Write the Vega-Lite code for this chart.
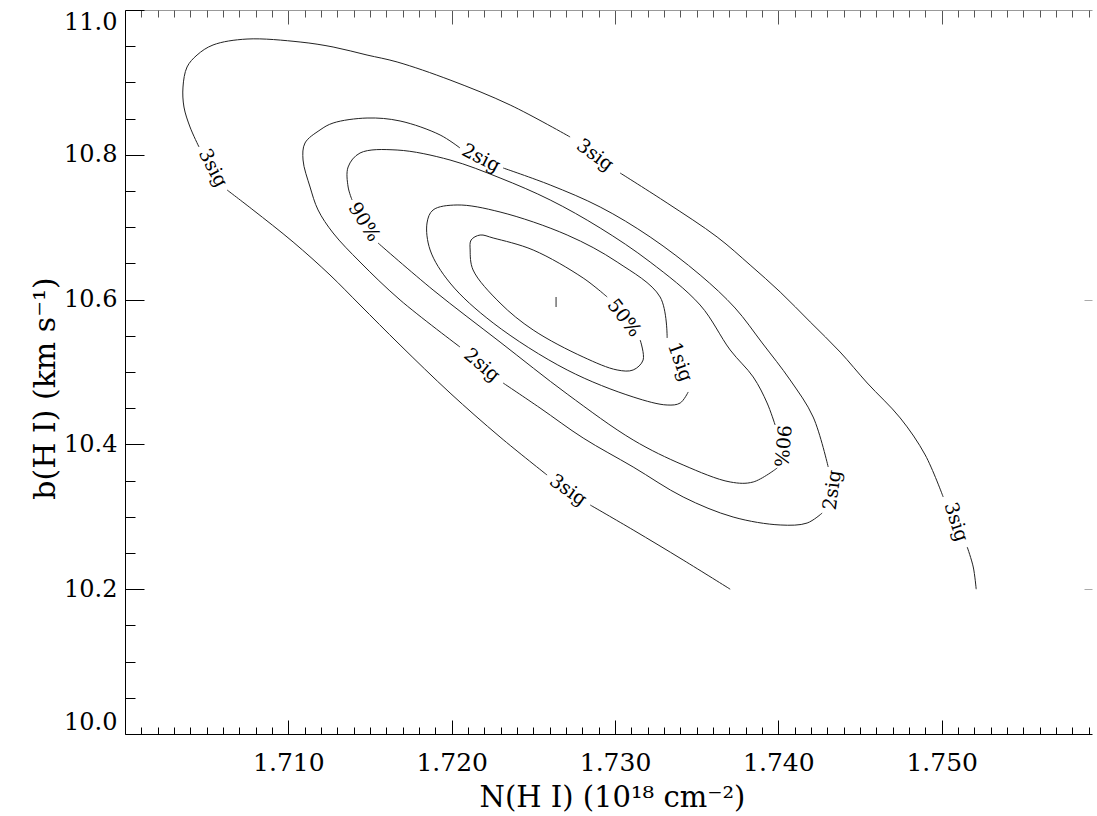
{
  "$schema": "https://vega.github.io/schema/vega-lite/v6.json",
  "width": 967,
  "height": 724,
  "autosize": {"type": "none"},
  "padding": {"left": 125, "top": 10, "right": 5, "bottom": 82},
  "background": "white",
  "config": {
    "view": {"stroke": null},
    "font": "DejaVu Serif",
    "axis": {
      "grid": false,
      "domainColor": "black",
      "tickColor": "black",
      "labelColor": "black",
      "titleColor": "black",
      "labelFont": "DejaVu Serif",
      "titleFont": "DejaVu Serif",
      "titleFontWeight": "normal",
      "labelFlush": false,
      "labelOverlap": false
    }
  },
  "datasets": {
    "ct": [
      {"level": "3sig", "seg": "3a", "k": 0, "N": 1.73705, "b": 10.2},
      {"level": "3sig", "seg": "3a", "k": 1, "N": 1.73417, "b": 10.2403},
      {"level": "3sig", "seg": "3a", "k": 2, "N": 1.73111, "b": 10.2818},
      {"level": "3sig", "seg": "3a", "k": 3, "N": 1.72848, "b": 10.3163},
      {"level": "3sig", "seg": "3b", "k": 0, "N": 1.72584, "b": 10.3577},
      {"level": "3sig", "seg": "3b", "k": 1, "N": 1.72296, "b": 10.4102},
      {"level": "3sig", "seg": "3b", "k": 2, "N": 1.7199, "b": 10.471},
      {"level": "3sig", "seg": "3b", "k": 3, "N": 1.71684, "b": 10.5373},
      {"level": "3sig", "seg": "3b", "k": 4, "N": 1.71439, "b": 10.5925},
      {"level": "3sig", "seg": "3b", "k": 5, "N": 1.71255, "b": 10.634},
      {"level": "3sig", "seg": "3b", "k": 6, "N": 1.71029, "b": 10.6796},
      {"level": "3sig", "seg": "3b", "k": 7, "N": 1.70784, "b": 10.7238},
      {"level": "3sig", "seg": "3b", "k": 8, "N": 1.70625, "b": 10.7514},
      {"level": "3sig", "seg": "3c", "k": 0, "N": 1.70453, "b": 10.8108},
      {"level": "3sig", "seg": "3c", "k": 1, "N": 1.70398, "b": 10.8384},
      {"level": "3sig", "seg": "3c", "k": 2, "N": 1.70361, "b": 10.866},
      {"level": "3sig", "seg": "3c", "k": 3, "N": 1.70355, "b": 10.8936},
      {"level": "3sig", "seg": "3c", "k": 4, "N": 1.7038, "b": 10.9213},
      {"level": "3sig", "seg": "3c", "k": 5, "N": 1.70441, "b": 10.9378},
      {"level": "3sig", "seg": "3c", "k": 6, "N": 1.70539, "b": 10.9517},
      {"level": "3sig", "seg": "3c", "k": 7, "N": 1.70747, "b": 10.9599},
      {"level": "3sig", "seg": "3c", "k": 8, "N": 1.71072, "b": 10.9558},
      {"level": "3sig", "seg": "3c", "k": 9, "N": 1.71274, "b": 10.9489},
      {"level": "3sig", "seg": "3c", "k": 10, "N": 1.71482, "b": 10.9378},
      {"level": "3sig", "seg": "3c", "k": 11, "N": 1.71666, "b": 10.9282},
      {"level": "3sig", "seg": "3c", "k": 12, "N": 1.7199, "b": 10.9033},
      {"level": "3sig", "seg": "3c", "k": 13, "N": 1.72358, "b": 10.8688},
      {"level": "3sig", "seg": "3c", "k": 14, "N": 1.72725, "b": 10.8246},
      {"level": "3sig", "seg": "3d", "k": 0, "N": 1.73031, "b": 10.7749},
      {"level": "3sig", "seg": "3d", "k": 1, "N": 1.73319, "b": 10.7334},
      {"level": "3sig", "seg": "3d", "k": 2, "N": 1.73625, "b": 10.6865},
      {"level": "3sig", "seg": "3d", "k": 3, "N": 1.73827, "b": 10.6478},
      {"level": "3sig", "seg": "3d", "k": 4, "N": 1.74011, "b": 10.6105},
      {"level": "3sig", "seg": "3d", "k": 5, "N": 1.74195, "b": 10.5691},
      {"level": "3sig", "seg": "3d", "k": 6, "N": 1.74378, "b": 10.5276},
      {"level": "3sig", "seg": "3d", "k": 7, "N": 1.74544, "b": 10.4848},
      {"level": "3sig", "seg": "3d", "k": 8, "N": 1.74746, "b": 10.4365},
      {"level": "3sig", "seg": "3d", "k": 9, "N": 1.74899, "b": 10.3854},
      {"level": "3sig", "seg": "3d", "k": 10, "N": 1.75009, "b": 10.3274},
      {"level": "3sig", "seg": "3e", "k": 0, "N": 1.75156, "b": 10.2583},
      {"level": "3sig", "seg": "3e", "k": 1, "N": 1.75193, "b": 10.2307},
      {"level": "3sig", "seg": "3e", "k": 2, "N": 1.75211, "b": 10.2},
      {"level": "2sig", "seg": "2a", "k": 0, "N": 1.72315, "b": 10.7818},
      {"level": "2sig", "seg": "2a", "k": 1, "N": 1.72603, "b": 10.7583},
      {"level": "2sig", "seg": "2a", "k": 2, "N": 1.72909, "b": 10.7279},
      {"level": "2sig", "seg": "2a", "k": 3, "N": 1.73215, "b": 10.6865},
      {"level": "2sig", "seg": "2a", "k": 4, "N": 1.73521, "b": 10.634},
      {"level": "2sig", "seg": "2a", "k": 5, "N": 1.73735, "b": 10.5884},
      {"level": "2sig", "seg": "2a", "k": 6, "N": 1.73901, "b": 10.5401},
      {"level": "2sig", "seg": "2a", "k": 7, "N": 1.74072, "b": 10.489},
      {"level": "2sig", "seg": "2a", "k": 8, "N": 1.74213, "b": 10.4378},
      {"level": "2sig", "seg": "2a", "k": 9, "N": 1.74305, "b": 10.3688},
      {"level": "2sig", "seg": "2b", "k": 0, "N": 1.74268, "b": 10.3052},
      {"level": "2sig", "seg": "2b", "k": 1, "N": 1.74176, "b": 10.2914},
      {"level": "2sig", "seg": "2b", "k": 2, "N": 1.74011, "b": 10.2887},
      {"level": "2sig", "seg": "2b", "k": 3, "N": 1.73723, "b": 10.2997},
      {"level": "2sig", "seg": "2b", "k": 4, "N": 1.73417, "b": 10.3274},
      {"level": "2sig", "seg": "2b", "k": 5, "N": 1.73111, "b": 10.3688},
      {"level": "2sig", "seg": "2b", "k": 6, "N": 1.72805, "b": 10.4088},
      {"level": "2sig", "seg": "2b", "k": 7, "N": 1.72541, "b": 10.4503},
      {"level": "2sig", "seg": "2b", "k": 8, "N": 1.72315, "b": 10.4848},
      {"level": "2sig", "seg": "2c", "k": 0, "N": 1.72051, "b": 10.5345},
      {"level": "2sig", "seg": "2c", "k": 1, "N": 1.71684, "b": 10.5995},
      {"level": "2sig", "seg": "2c", "k": 2, "N": 1.71439, "b": 10.6519},
      {"level": "2sig", "seg": "2c", "k": 3, "N": 1.71274, "b": 10.692},
      {"level": "2sig", "seg": "2c", "k": 4, "N": 1.71182, "b": 10.7238},
      {"level": "2sig", "seg": "2c", "k": 5, "N": 1.71133, "b": 10.7555},
      {"level": "2sig", "seg": "2c", "k": 6, "N": 1.7109, "b": 10.7928},
      {"level": "2sig", "seg": "2c", "k": 7, "N": 1.71102, "b": 10.8163},
      {"level": "2sig", "seg": "2c", "k": 8, "N": 1.71194, "b": 10.8343},
      {"level": "2sig", "seg": "2c", "k": 9, "N": 1.71274, "b": 10.8439},
      {"level": "2sig", "seg": "2c", "k": 10, "N": 1.71482, "b": 10.8508},
      {"level": "2sig", "seg": "2c", "k": 11, "N": 1.71684, "b": 10.8467},
      {"level": "2sig", "seg": "2c", "k": 12, "N": 1.71929, "b": 10.8274},
      {"level": "2sig", "seg": "2c", "k": 13, "N": 1.72051, "b": 10.8094},
      {"level": "90%", "seg": "9a", "k": 0, "N": 1.71549, "b": 10.6782},
      {"level": "90%", "seg": "9a", "k": 1, "N": 1.71886, "b": 10.6133},
      {"level": "90%", "seg": "9a", "k": 2, "N": 1.72296, "b": 10.5414},
      {"level": "90%", "seg": "9a", "k": 3, "N": 1.72707, "b": 10.4696},
      {"level": "90%", "seg": "9a", "k": 4, "N": 1.73111, "b": 10.4061},
      {"level": "90%", "seg": "9a", "k": 5, "N": 1.73417, "b": 10.3716},
      {"level": "90%", "seg": "9a", "k": 6, "N": 1.73705, "b": 10.3481},
      {"level": "90%", "seg": "9a", "k": 7, "N": 1.73846, "b": 10.3481},
      {"level": "90%", "seg": "9a", "k": 8, "N": 1.73993, "b": 10.3674},
      {"level": "90%", "seg": "9b", "k": 0, "N": 1.7398, "b": 10.4268},
      {"level": "90%", "seg": "9b", "k": 1, "N": 1.73931, "b": 10.4572},
      {"level": "90%", "seg": "9b", "k": 2, "N": 1.73846, "b": 10.4931},
      {"level": "90%", "seg": "9b", "k": 3, "N": 1.73705, "b": 10.5304},
      {"level": "90%", "seg": "9b", "k": 4, "N": 1.73521, "b": 10.5925},
      {"level": "90%", "seg": "9b", "k": 5, "N": 1.73215, "b": 10.6519},
      {"level": "90%", "seg": "9b", "k": 6, "N": 1.72909, "b": 10.6989},
      {"level": "90%", "seg": "9b", "k": 7, "N": 1.72603, "b": 10.7376},
      {"level": "90%", "seg": "9b", "k": 8, "N": 1.72296, "b": 10.768},
      {"level": "90%", "seg": "9b", "k": 9, "N": 1.7199, "b": 10.7928},
      {"level": "90%", "seg": "9b", "k": 10, "N": 1.71666, "b": 10.8066},
      {"level": "90%", "seg": "9b", "k": 11, "N": 1.71439, "b": 10.8025},
      {"level": "90%", "seg": "9b", "k": 12, "N": 1.71366, "b": 10.7832},
      {"level": "90%", "seg": "9b", "k": 13, "N": 1.71366, "b": 10.7555},
      {"level": "90%", "seg": "9b", "k": 14, "N": 1.7139, "b": 10.7376},
      {"level": "1sig", "seg": "1a", "k": 0, "N": 1.73448, "b": 10.4724},
      {"level": "1sig", "seg": "1a", "k": 1, "N": 1.73399, "b": 10.4572},
      {"level": "1sig", "seg": "1a", "k": 2, "N": 1.73319, "b": 10.4544},
      {"level": "1sig", "seg": "1a", "k": 3, "N": 1.73111, "b": 10.4655},
      {"level": "1sig", "seg": "1a", "k": 4, "N": 1.72707, "b": 10.5028},
      {"level": "1sig", "seg": "1a", "k": 5, "N": 1.72254, "b": 10.5677},
      {"level": "1sig", "seg": "1a", "k": 6, "N": 1.7199, "b": 10.6229},
      {"level": "1sig", "seg": "1a", "k": 7, "N": 1.71868, "b": 10.6685},
      {"level": "1sig", "seg": "1a", "k": 8, "N": 1.71849, "b": 10.7058},
      {"level": "1sig", "seg": "1a", "k": 9, "N": 1.71886, "b": 10.7238},
      {"level": "1sig", "seg": "1a", "k": 10, "N": 1.72033, "b": 10.7307},
      {"level": "1sig", "seg": "1a", "k": 11, "N": 1.72296, "b": 10.721},
      {"level": "1sig", "seg": "1a", "k": 12, "N": 1.72707, "b": 10.6892},
      {"level": "1sig", "seg": "1a", "k": 13, "N": 1.73013, "b": 10.6519},
      {"level": "1sig", "seg": "1a", "k": 14, "N": 1.73276, "b": 10.6036},
      {"level": "1sig", "seg": "1a", "k": 15, "N": 1.73319, "b": 10.547},
      {"level": "50%", "seg": "5a", "k": 0, "N": 1.73154, "b": 10.5442},
      {"level": "50%", "seg": "5a", "k": 1, "N": 1.73172, "b": 10.5166},
      {"level": "50%", "seg": "5a", "k": 2, "N": 1.73111, "b": 10.5028},
      {"level": "50%", "seg": "5a", "k": 3, "N": 1.73013, "b": 10.5028},
      {"level": "50%", "seg": "5a", "k": 4, "N": 1.72805, "b": 10.5207},
      {"level": "50%", "seg": "5a", "k": 5, "N": 1.72499, "b": 10.558},
      {"level": "50%", "seg": "5a", "k": 6, "N": 1.72296, "b": 10.5953},
      {"level": "50%", "seg": "5a", "k": 7, "N": 1.72131, "b": 10.6409},
      {"level": "50%", "seg": "5a", "k": 8, "N": 1.72113, "b": 10.6685},
      {"level": "50%", "seg": "5a", "k": 9, "N": 1.72119, "b": 10.6823},
      {"level": "50%", "seg": "5a", "k": 10, "N": 1.72174, "b": 10.6892},
      {"level": "50%", "seg": "5a", "k": 11, "N": 1.72254, "b": 10.6851},
      {"level": "50%", "seg": "5a", "k": 12, "N": 1.72499, "b": 10.6685},
      {"level": "50%", "seg": "5a", "k": 13, "N": 1.72805, "b": 10.6298},
      {"level": "50%", "seg": "5a", "k": 14, "N": 1.72952, "b": 10.6036}
    ],
    "lbl": [
      {"text": "3sig", "N": 1.70539, "b": 10.7818, "rot": 62},
      {"text": "3sig", "N": 1.72713, "b": 10.337, "rot": 35},
      {"text": "3sig", "N": 1.72878, "b": 10.7997, "rot": 36},
      {"text": "3sig", "N": 1.75089, "b": 10.2928, "rot": 72},
      {"text": "2sig", "N": 1.7218, "b": 10.7956, "rot": 27},
      {"text": "2sig", "N": 1.72186, "b": 10.5097, "rot": 40},
      {"text": "2sig", "N": 1.7433, "b": 10.337, "rot": -82},
      {"text": "90%", "N": 1.71464, "b": 10.7072, "rot": 58},
      {"text": "90%", "N": 1.74023, "b": 10.3978, "rot": 95},
      {"text": "1sig", "N": 1.73399, "b": 10.5138, "rot": 70},
      {"text": "50%", "N": 1.73056, "b": 10.5746, "rot": 52}
    ],
    "best": [
      {"N": 1.72639, "b": 10.5967}
    ]
  },
  "layer": [
    {
      "data": {"name": "ct"},
      "transform": [{"filter": {"field": "level", "oneOf": ["3sig", "2sig"]}}],
      "mark": {"type": "line", "color": "#222", "strokeWidth": 1, "interpolate": "catmull-rom"},
      "encoding": {
        "x": {
          "field": "N", "type": "quantitative",
          "scale": {"domain": [1.7, 1.7592], "nice": false, "zero": false},
          "axis": {
            "orient": "bottom",
            "values": [1.71, 1.72, 1.73, 1.74, 1.75],
            "format": ".3f",
            "tickSize": -14,
            "labelPadding": 30,
            "labelFontSize": 25,
            "title": "N(H I) (10¹⁸ cm⁻²)",
            "titleFontSize": 29,
            "titleX": 487,
            "titleY": 63,
            "titleAlign": "center",
            "titleBaseline": "middle"
          }
        },
        "y": {
          "field": "b", "type": "quantitative",
          "scale": {"domain": [10, 11], "nice": false, "zero": false},
          "axis": {
            "orient": "left",
            "values": [10, 10.2, 10.4, 10.6, 10.8, 11],
            "format": ".1f",
            "tickSize": -19,
            "labelPadding": 27,
            "labelFontSize": 24,
            "labelFlush": true,
            "title": "b(H I) (km s⁻¹)",
            "titleFontSize": 30,
            "titleX": -80,
            "titleY": 378,
            "titleAngle": -90,
            "titleAlign": "center",
            "titleBaseline": "middle"
          }
        },
        "detail": {"field": "seg"},
        "order": {"field": "k", "type": "quantitative"}
      }
    },
    {
      "data": {"name": "ct"},
      "transform": [{"filter": {"field": "level", "oneOf": ["90%", "1sig", "50%"]}}],
      "mark": {"type": "line", "color": "#222", "strokeWidth": 1, "interpolate": "catmull-rom"},
      "encoding": {
        "x": {
          "field": "N", "type": "quantitative",
          "scale": {"domain": [1.7, 1.7592], "nice": false, "zero": false},
          "axis": {
            "orient": "top",
            "values": [1.71, 1.72, 1.73, 1.74, 1.75],
            "tickSize": -14,
            "labels": false,
            "domainColor": "#999",
            "tickColor": "#555",
            "title": null
          }
        },
        "y": {
          "field": "b", "type": "quantitative",
          "scale": {"domain": [10, 11], "nice": false, "zero": false},
          "axis": {
            "orient": "right",
            "values": [10.2, 10.6],
            "tickSize": -8,
            "labels": false,
            "domain": false,
            "tickColor": "#aaa",
            "title": null
          }
        },
        "detail": {"field": "seg"},
        "order": {"field": "k", "type": "quantitative"}
      }
    },
    {
      "data": {"name": "lbl"},
      "mark": {"type": "text", "font": "DejaVu Serif", "fontSize": 19, "color": "black", "align": "center", "baseline": "middle"},
      "encoding": {
        "x": {
          "field": "N", "type": "quantitative",
          "scale": {"domain": [1.7, 1.7592], "nice": false, "zero": false},
          "axis": {
            "orient": "bottom",
            "values": [1.701, 1.702, 1.703, 1.704, 1.705, 1.706, 1.707, 1.708, 1.709, 1.711, 1.712, 1.713, 1.714, 1.715, 1.716, 1.717, 1.718, 1.719, 1.721, 1.722, 1.723, 1.724, 1.725, 1.726, 1.727, 1.728, 1.729, 1.731, 1.732, 1.733, 1.734, 1.735, 1.736, 1.737, 1.738, 1.739, 1.741, 1.742, 1.743, 1.744, 1.745, 1.746, 1.747, 1.748, 1.749, 1.751, 1.752, 1.753, 1.754, 1.755, 1.756, 1.757, 1.758, 1.759],
            "tickSize": -7,
            "labels": false,
            "domain": false,
            "title": null
          }
        },
        "y": {
          "field": "b", "type": "quantitative",
          "scale": {"domain": [10, 11], "nice": false, "zero": false},
          "axis": {
            "orient": "left",
            "values": [10.05, 10.1, 10.15, 10.25, 10.3, 10.35, 10.45, 10.5, 10.55, 10.65, 10.7, 10.75, 10.85, 10.9, 10.95],
            "tickSize": -10,
            "labels": false,
            "domain": false,
            "title": null
          }
        },
        "text": {"field": "text"},
        "angle": {"field": "rot", "type": "quantitative", "scale": null}
      }
    },
    {
      "data": {"name": "best"},
      "mark": {"type": "tick", "orient": "vertical", "size": 10, "thickness": 1.2, "color": "black"},
      "encoding": {
        "x": {
          "field": "N", "type": "quantitative",
          "scale": {"domain": [1.7, 1.7592], "nice": false, "zero": false},
          "axis": {
            "orient": "top",
            "values": [1.701, 1.702, 1.703, 1.704, 1.705, 1.706, 1.707, 1.708, 1.709, 1.711, 1.712, 1.713, 1.714, 1.715, 1.716, 1.717, 1.718, 1.719, 1.721, 1.722, 1.723, 1.724, 1.725, 1.726, 1.727, 1.728, 1.729, 1.731, 1.732, 1.733, 1.734, 1.735, 1.736, 1.737, 1.738, 1.739, 1.741, 1.742, 1.743, 1.744, 1.745, 1.746, 1.747, 1.748, 1.749, 1.751, 1.752, 1.753, 1.754, 1.755, 1.756, 1.757, 1.758, 1.759],
            "tickSize": -7,
            "labels": false,
            "domain": false,
            "tickColor": "#555",
            "title": null
          }
        },
        "y": {
          "field": "b", "type": "quantitative",
          "scale": {"domain": [10, 11], "nice": false, "zero": false},
          "axis": null
        }
      }
    }
  ],
  "resolve": {"axis": {"x": "independent", "y": "independent"}}
}
